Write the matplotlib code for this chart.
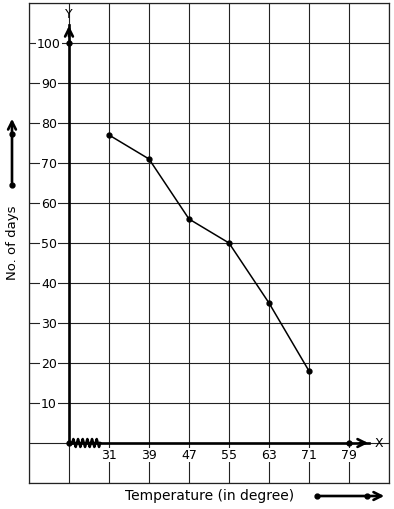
import numpy as np
import matplotlib
matplotlib.use("Agg")
import matplotlib.pyplot as plt

# data
temperature = [31, 39, 47, 55, 63, 71]
days = [77, 71, 56, 50, 35, 18]
x_ticks = [31, 39, 47, 55, 63, 71, 79]
y_ticks = [10, 20, 30, 40, 50, 60, 70, 80, 90, 100]

x0 = 23      # origin of the x axis (broken scale)
step = 8

fig = plt.figure(figsize=(3.94, 5.10), dpi=100)
ax = fig.add_axes([29 / 394, 26 / 510, 360 / 394, 480 / 510])
ax.set_xlim(x0 - step, x0 + 8 * step)
ax.set_ylim(-10, 110)

# graph paper grid
ax.set_xticks(np.arange(x0 - step, x0 + 8 * step + 1, step))
ax.set_yticks(np.arange(-10, 111, 10))
ax.grid(True, color="#222222", linewidth=0.8)
ax.tick_params(length=0, labelbottom=False, labelleft=False)
for s in ax.spines.values():
    s.set_linewidth(0.9)
    s.set_color("#222222")

# axes
ax.plot([x0, x0], [0, 104.5], color="black", lw=1.9, zorder=4)
ax.plot([x0, x0 + 7.5 * step], [0, 0], color="black", lw=1.9, zorder=4)
ax.annotate("", xy=(x0, 105), xytext=(x0, 101), zorder=5,
            arrowprops=dict(arrowstyle="->", lw=1.9, color="black", mutation_scale=14))
ax.annotate("", xy=(x0 + 7.55 * step, 0), xytext=(x0 + 7.2 * step, 0), zorder=5,
            arrowprops=dict(arrowstyle="->", lw=1.9, color="black", mutation_scale=14))
ax.plot([x0, x0, x_ticks[-1]], [0, 100, 0], "o", color="black", ms=3.5, zorder=6)
ax.text(x0, 107.4, "Y", ha="center", va="center", fontsize=9, zorder=6)
ax.text(x0 + 7.75 * step, 0, "X", ha="center", va="center", fontsize=9, zorder=6)

# kink on the x axis, drawn as a tight zigzag
n = 25
zx = np.linspace(x0 + 0.08 * step, x0 + 0.78 * step, n)
k = np.arange(n) % 4
zy = np.where(k == 1, 1.0, np.where(k == 3, -1.0, 0.0))
ax.plot(zx, zy, color="black", lw=1.8, zorder=5)

# tick labels sitting on the grid lines
box = dict(facecolor="white", edgecolor="none", pad=0.5)
for t in x_ticks:
    ax.text(t, -3.0, str(t), ha="center", va="center", fontsize=9, bbox=box, zorder=3)
for v in y_ticks:
    ax.text(x0 - 0.5 * step, v, str(v), ha="center", va="center", fontsize=9, bbox=box, zorder=3)

# the data
ax.plot(temperature, days, color="black", lw=1.1, marker="o", ms=3.5, zorder=6)

# axis titles with their arrows
fig.text(13 / 394, 267 / 510, "No. of days", rotation=90, ha="center", va="center", fontsize=9.5)
fig.text(210 / 394, 14 / 510, "Temperature (in degree)", ha="center", va="center", fontsize=10)

ax2 = fig.add_axes([0, 0, 1, 1], facecolor="none")
ax2.set_xlim(0, 394)
ax2.set_ylim(0, 510)
ax2.axis("off")
ax2.annotate("", xy=(12, 393), xytext=(12, 324),
             arrowprops=dict(arrowstyle="->", lw=1.9, color="black", mutation_scale=14))
ax2.plot([12, 12], [324, 375], "o", color="black", ms=3.5)
ax2.annotate("", xy=(387, 13), xytext=(317, 13),
             arrowprops=dict(arrowstyle="->", lw=1.9, color="black", mutation_scale=14))
ax2.plot([317, 367], [13, 13], "o", color="black", ms=3.5)

fig.savefig("out.png", dpi=100)
